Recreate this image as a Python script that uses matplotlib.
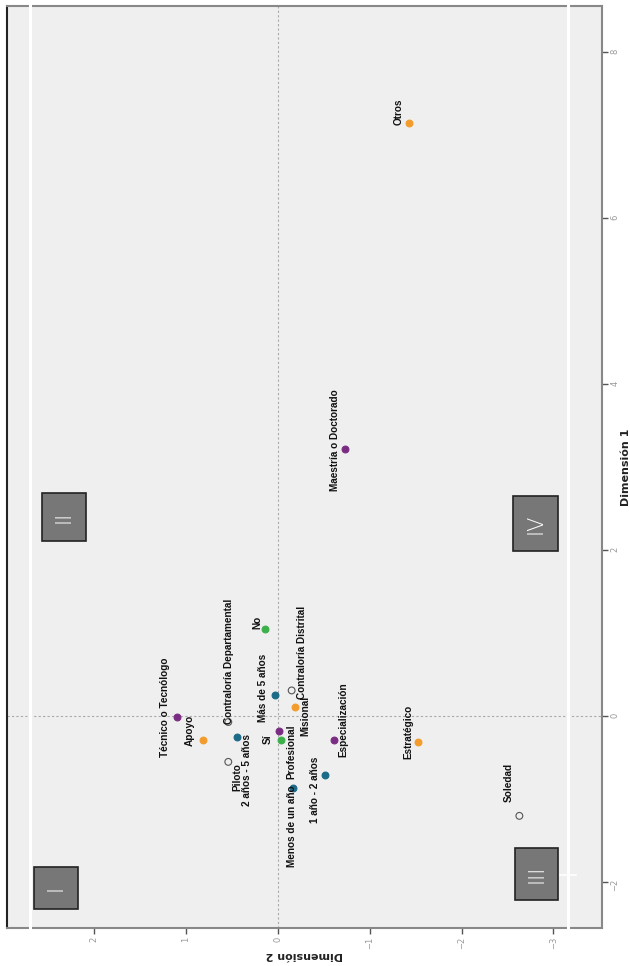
import matplotlib
matplotlib.use("Agg")
import matplotlib.pyplot as plt
from matplotlib.patches import Rectangle
from matplotlib.lines import Line2D

# category labels, Dimension 1 (vertical) and Dimension 2 (horizontal, reversed)
educ_labels = ["Técnico o Tecnólogo", "Profesional", "Especialización", "Maestría o Doctorado"]
educ_d1 = [-0.01, -0.18, -0.29, 3.22]
educ_d2 = [1.10, -0.01, -0.61, -0.73]

proc_labels = ["Apoyo", "Misional", "Estratégico", "Otros"]
proc_d1 = [-0.29, 0.11, -0.31, 7.14]
proc_d2 = [0.82, -0.19, -1.53, -1.43]

time_labels = ["2 años - 5 años", "Más de 5 años", "1 año - 2 años", "Menos de un año"]
time_d1 = [-0.25, 0.25, -0.71, -0.86]
time_d2 = [0.44, 0.03, -0.51, -0.16]

yn_labels = ["No", "Sí"]
yn_d1 = [1.05, -0.29]
yn_d2 = [0.14, -0.03]

ent_labels = ["Contraloría Departamental", "Contraloría Distrital", "Piloto", "Soledad"]
ent_d1 = [-0.07, 0.31, -0.55, -1.20]
ent_d2 = [0.54, -0.15, 0.54, -2.63]

d1_ticks = [-2, 0, 2, 4, 6, 8]
d2_ticks = [-3, -2, -1, 0, 1, 2]

# label offsets in pixels (right, down) from the point to the label centre
offsets = {
    "Otros": (-11, -11), "Maestría o Doctorado": (-10, -9),
    "Técnico o Tecnólogo": (-12, -10), "Apoyo": (-13, -10),
    "Contraloría Departamental": (1, -61), "2 años - 5 años": (10, 33),
    "No": (-8, -7), "Más de 5 años": (-12, -8),
    "Contraloría Distrital": (10, -38), "Misional": (10, 9),
    "Profesional": (13, 21), "Sí": (-13, -1),
    "Especialización": (9, -21), "Estratégico": (-10, -10),
    "1 año - 2 años": (-10, 15), "Menos de un año": (-1, 39),
    "Piloto": (9, 15), "Soledad": (-11, -33),
}

W, H = 630, 966
fig = plt.figure(figsize=(W / 100, H / 100), dpi=100)
ax = fig.add_axes([7 / W, (H - 928) / H, 595 / W, 922 / H])
ax.set_facecolor("#efefef")
ax.set_xlim(2.95, -3.53)
ax.set_ylim(-2.55, 8.55)

ax.axvline(0, color="#aaaaaa", ls=(0, (2, 2)), lw=0.8, zorder=1)
ax.axhline(0, color="#aaaaaa", ls=(0, (2, 2)), lw=0.8, zorder=1)

groups = [
    (educ_labels, educ_d2, educ_d1, "#7a2c82", "#7a2c82"),
    (proc_labels, proc_d2, proc_d1, "#f39c2b", "#f39c2b"),
    (time_labels, time_d2, time_d1, "#1b6a87", "#1b6a87"),
    (yn_labels, yn_d2, yn_d1, "#3cb04a", "#3cb04a"),
    (ent_labels, ent_d2, ent_d1, "none", "#555555"),
]

lab_font = ["Liberation Sans Narrow", "Liberation Sans", "DejaVu Sans"]
for labels, xs, ys, fc, ec in groups:
    ax.scatter(xs, ys, s=24, facecolor=fc, edgecolor=ec, linewidth=0.8, zorder=3)
    for lab, x, y in zip(labels, xs, ys):
        dx, dy = offsets[lab]
        ax.annotate(lab, (x, y), xytext=(dx * 0.72, -dy * 0.72),
                    textcoords="offset points", rotation=90,
                    ha="center", va="center", fontsize=7.2,
                    fontweight="bold", family=lab_font, color="#111111")

ax.yaxis.tick_right()
ax.yaxis.set_label_position("right")
ax.set_yticks(d1_ticks)
ax.set_xticks(d2_ticks)
ax.tick_params(axis="both", colors="#555555", labelcolor="#999999",
               labelsize=6, length=4, width=1, direction="out", pad=2)
for t in ax.get_xticklabels():
    t.set_rotation(90)
for t in ax.get_yticklabels():
    t.set_rotation(90)
ax.set_xlabel("Dimensión 2", rotation=180, fontsize=8, fontweight="bold",
              color="#222222", labelpad=1)
ax.set_ylabel("Dimensión 1", rotation=90, fontsize=8, fontweight="bold",
              color="#222222", labelpad=1)

for side in ["top", "right", "bottom"]:
    ax.spines[side].set_color("#888888")
    ax.spines[side].set_linewidth(1.5)
ax.spines["left"].set_color("#222222")
ax.spines["left"].set_linewidth(1.5)

# quadrant boxes (pixel boxes in the figure)
boxes = [("II", 42, 493, 86, 541), ("IV", 513, 496, 558, 551),
         ("III", 515, 848, 558, 900), ("I", 34, 867, 78, 909)]
for txt, x0, y0, x1, y1 in boxes:
    fig.add_artist(Rectangle((x0 / W, 1 - y1 / H), (x1 - x0) / W, (y1 - y0) / H,
                             transform=fig.transFigure, facecolor="#777777",
                             edgecolor="#222222", linewidth=1.2, zorder=5))
    fig.text((x0 + x1) / 2 / W, 1 - (y0 + y1) / 2 / H, txt, rotation=90,
             ha="center", va="center", color="white", fontsize=15,
             family="DejaVu Sans", fontweight="light", zorder=6)

# white stripes over the frame
for xs in [30, 568]:
    fig.add_artist(Line2D([xs / W, xs / W], [1 - 940 / H, 1.0], color="white",
                          lw=2.2, transform=fig.transFigure, zorder=4))
fig.add_artist(Line2D([560 / W, 576 / W], [1 - 875 / H, 1 - 875 / H], color="white",
                      lw=1.2, transform=fig.transFigure, zorder=7))

plt.savefig("out.png", dpi=100)
